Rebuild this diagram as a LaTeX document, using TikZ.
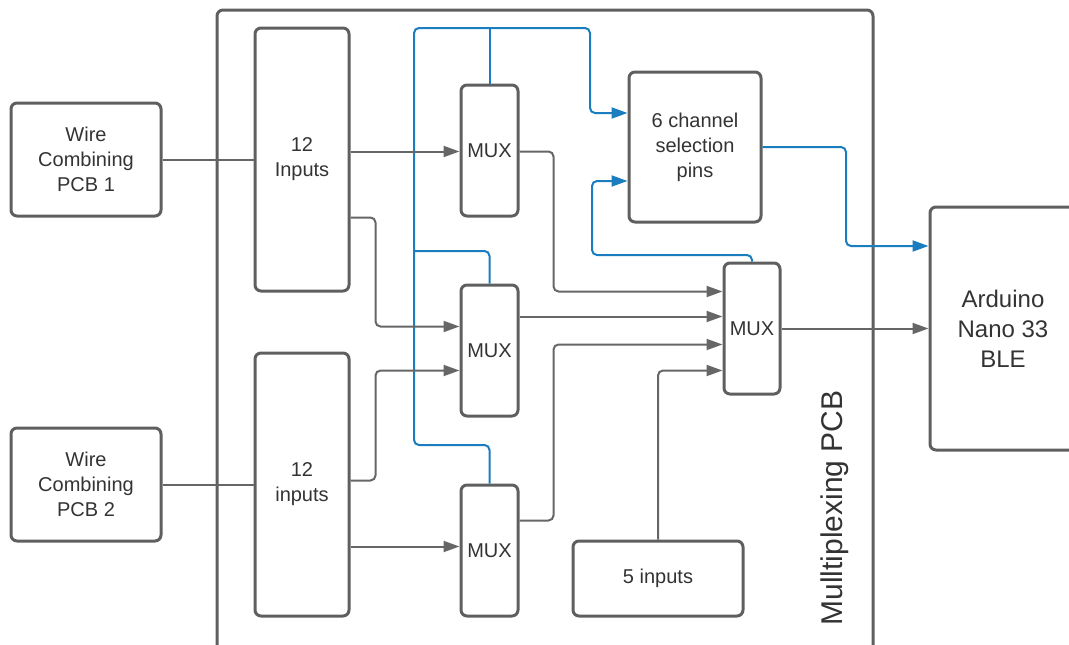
\documentclass[tikz,border=0pt]{standalone}
\usepackage{fontspec}
\setmainfont{Liberation Sans}
\usetikzlibrary{arrows.meta,positioning,calc}
\definecolor{boxgray}{HTML}{5F5F5F}
\definecolor{wiregray}{HTML}{666666}
\definecolor{txtgray}{HTML}{333333}
\definecolor{busblue}{HTML}{1A7DC0}
\begin{document}
\begin{tikzpicture}[x=1pt,y=-1pt,
	blk/.style={draw=boxgray,line width=3pt,rounded corners=6pt,align=center,
		text=txtgray,font=\fontsize{20}{25}\selectfont,inner sep=0pt},
	wire/.style={draw=wiregray,line width=2pt,rounded corners=5pt},
	bus/.style={draw=busblue,line width=2pt,rounded corners=5pt},
	tip/.style={-{Triangle[length=16pt,width=11pt]}}]
	\useasboundingbox (0,0) rectangle (1069,645);
	
	% multiplexing board frame
	\draw[draw=boxgray,line width=3pt,rounded corners=6pt] (217,670) rectangle (873,10);
	\node[rotate=90,text=txtgray,font=\fontsize{30}{36}\selectfont] (pcblbl) at (835,508) {Mulltiplexing PCB};
	
	% blocks
	\node[blk,minimum width=150pt,minimum height=113pt] (wcp1) at (86,159.5) {Wire\\Combining\\PCB 1};
	\node[blk,minimum width=150pt,minimum height=113pt] (wcp2) at (86,484.5) {Wire\\Combining\\PCB 2};
	\node[blk,minimum width=94pt,minimum height=263pt] (in1) at (302,159.5) {12\\Inputs};
	\node[blk,minimum width=94pt,minimum height=263pt] (in2) at (302,484.5) {12\\inputs};
	\foreach \i/\y in {1/150.5,2/350.5,3/550.5}{
		\node[blk,minimum width=57pt,minimum height=131pt] (mux\i) at (489.5,\y) {MUX};
	}
	\node[blk,minimum width=56pt,minimum height=131pt] (mux4) at (752,328.5) {MUX};
	\node[blk,minimum width=132pt,minimum height=150pt] (sel) at (695,147) {6 channel\\selection\\pins};
	\node[blk,minimum width=170pt,minimum height=75pt] (five) at (658,578.5) {5 inputs};
	\node[blk,minimum width=146pt,minimum height=243pt,font=\fontsize{24}{30}\selectfont] (ard) at (1003,328.5) {Arduino\\Nano 33\\BLE};
	
	% bus corner points
	\coordinate (bustop) at (414,28);
	\coordinate (busmid) at (414,251);
	\coordinate (busbot) at (414,445);
	\coordinate (seldrop) at (590,113);
	\coordinate (ardbus) at (846,246);
	
	% selection lines
	\draw[bus,tip] (mux3.north) |- (busbot) -- (bustop) -| (seldrop) -- (seldrop -| sel.west);
	\draw[bus] (mux1.north) -- (mux1.north |- bustop);
	\draw[bus] (mux2.north) |- (busmid);
	\draw[bus,tip] (mux4.north) |- (592,255) |- ($(sel.west)+(0,34)$);
	\draw[bus,tip] (sel.east) -| (ardbus) -- (ardbus -| ard.west);
	
	% signal lines
	\draw[wire] (wcp1.east) -- (wcp1.east -| in1.west);
	\draw[wire] (wcp2.east) -- (wcp2.east -| in2.west);
	\draw[wire,tip] ($(in1.east)+(0,-8)$) -- ($(mux1.west)+(0,1)$);
	\draw[wire,tip] ($(in1.east)+(0,58)$) -| ($(mux2.west)+(-84,-24)$) -- ($(mux2.west)+(0,-24)$);
	\draw[wire,tip] ($(in2.east)+(0,-4)$) -| ($(mux2.west)+(-84,20)$) -- ($(mux2.west)+(0,20)$);
	\draw[wire,tip] ($(in2.east)+(0,62)$) -- ($(mux3.west)+(0,-4)$);
	\draw[wire,tip] ($(mux1.east)+(0,1)$) -| ($(mux4.west)+(-169,-37)$) -- ($(mux4.west)+(0,-37)$);
	\draw[wire,tip] ($(mux2.east)+(0,-34)$) -- ($(mux4.west)+(0,-12)$);
	\draw[wire,tip] ($(mux3.east)+(0,-30)$) -| ($(mux4.west)+(-169,16)$) -- ($(mux4.west)+(0,16)$);
	\draw[wire,tip] (five.north) |- ($(mux4.west)+(0,42)$);
	\draw[wire,tip] (mux4.east) -- (mux4.east -| ard.west);
\end{tikzpicture}
\end{document}
